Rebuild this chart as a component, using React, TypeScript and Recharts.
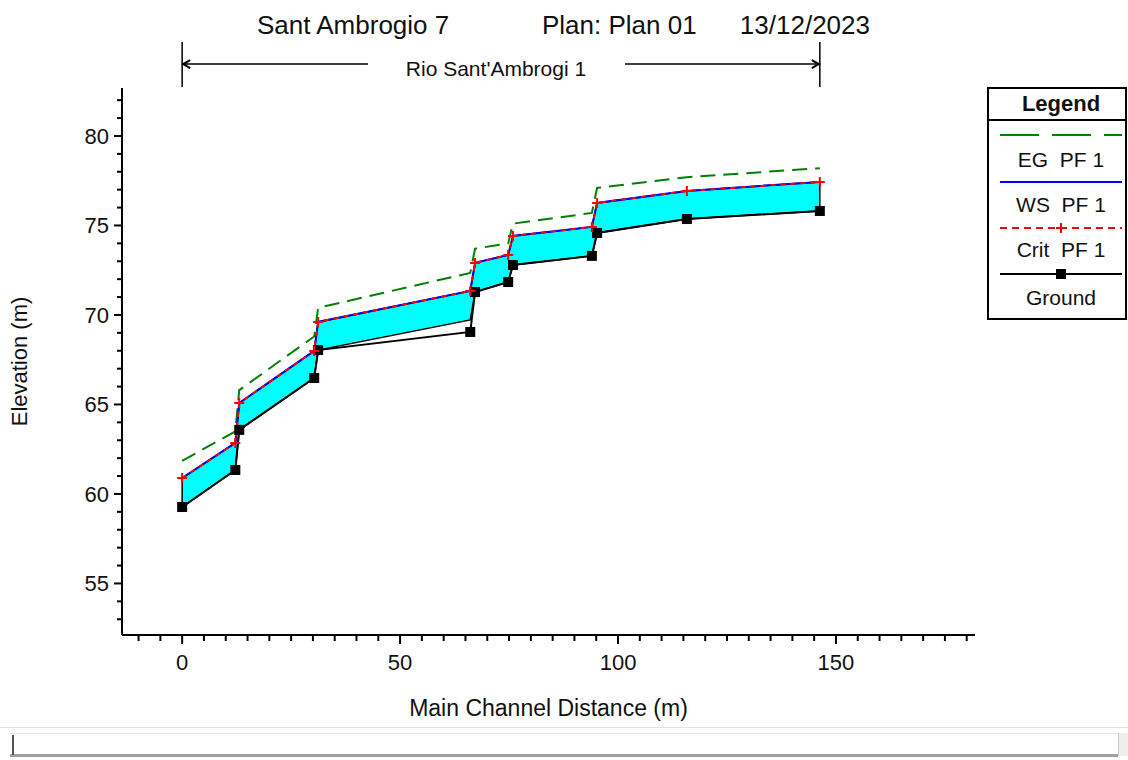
import React from "react";
import { ComposedChart, XAxis, YAxis, Area, Line, ReferenceLine } from "recharts";

// river stations (main channel distance, m) and profile elevations (m)
const stations = [0, 12.2, 13.1, 30.3, 31.2, 66.1, 67.2, 74.8, 75.9, 94.0, 95.2, 115.8, 146.3];
const groundElev = [59.27, 61.34, 63.58, 66.48, 68.04, 69.05, 71.28, 71.84, 72.79, 73.3, 74.58, 75.36, 75.81];
const flowBottom = [59.27, 61.34, 63.58, 66.48, 68.04, 69.72, 71.28, 71.84, 72.79, 73.3, 74.58, 75.36, 75.81];
const wsElev = [60.89, 62.85, 65.08, 67.99, 69.61, 71.34, 72.91, 73.35, 74.41, 74.92, 76.26, 76.93, 77.43];
const critElev = [60.89, 62.85, 65.08, 67.99, 69.61, 71.34, 72.91, 73.35, 74.41, 74.92, 76.26, 76.93, 77.43];
const egElev = [61.85, 63.5, 65.8, 68.8, 70.4, 72.35, 73.7, 74.0, 75.1, 75.7, 77.1, 77.7, 78.2];

const titleParts = ["Sant Ambrogio 7", "Plan: Plan 01", "13/12/2023"];
const reachName = "Rio Sant'Ambrogi 1";
const legendLabels = ["EG  PF 1", "WS  PF 1", "Crit  PF 1", "Ground"];

const xTicks = Array.from({ length: 39 }, (_, i) => -10 + i * 5);
const yTicks = Array.from({ length: 30 }, (_, i) => 53 + i);

const data = stations.map((d, i) => ({
  dist: d,
  ground: groundElev[i],
  ws: wsElev[i],
  crit: critElev[i],
  eg: egElev[i],
  flow: [flowBottom[i], wsElev[i]],
}));

const FONT = "'Liberation Sans', Arial, sans-serif";
const last = stations.length - 1;
const bracketElev = 84.02;

const XTick = ({ x, y, payload }: any) => {
  const major = payload.value % 50 === 0;
  return (
    <g>
      <line x1={x} x2={x} y1={y} y2={y + (major ? 9 : 6)} stroke="#000" strokeWidth={2} />
      {major && (
        <text x={x} y={y + 35} textAnchor="middle" fontSize={22} fill="#111">
          {payload.value}
        </text>
      )}
    </g>
  );
};

const YTick = ({ x, y, payload }: any) => {
  const major = payload.value % 5 === 0;
  return (
    <g>
      <line x1={x} x2={x - (major ? 8 : 5)} y1={y} y2={y} stroke="#000" strokeWidth={2} />
      {major && (
        <text x={x - 13} y={y + 8} textAnchor="end" fontSize={22} fill="#111">
          {payload.value}
        </text>
      )}
    </g>
  );
};

const BracketShape = ({ x1, y1, x2 }: any) => {
  const mid = (x1 + x2) / 2;
  return (
    <g>
      <line x1={x1} x2={x1} y1={y1 - 22} y2={y1 + 23} stroke="#000" strokeWidth={1.5} />
      <line x1={x2} x2={x2} y1={y1 - 22} y2={y1 + 23} stroke="#000" strokeWidth={1.5} />
      <line x1={x1} x2={mid - 133} y1={y1} y2={y1} stroke="#000" strokeWidth={1.5} />
      <line x1={mid + 124} x2={x2} y1={y1} y2={y1} stroke="#000" strokeWidth={1.5} />
      <path d={`M${x1 + 8},${y1 - 4}L${x1 + 1},${y1}L${x1 + 8},${y1 + 4}`} fill="none" stroke="#000" strokeWidth={2} />
      <path d={`M${x2 - 8},${y1 - 4}L${x2 - 1},${y1}L${x2 - 8},${y1 + 4}`} fill="none" stroke="#000" strokeWidth={2} />
      <text x={mid - 5} y={y1 + 12} textAnchor="middle" fontSize={21} fill="#111">
        {reachName}
      </text>
    </g>
  );
};

const groundDot = (p: any) => (
  <rect key={`g${p.index}`} x={p.cx - 5} y={p.cy - 5} width={10} height={10} fill="#000" />
);

const critDot = (p: any) => (
  <path
    key={`c${p.index}`}
    d={`M${p.cx - 5},${p.cy}h10M${p.cx},${p.cy - 5}v10`}
    stroke="#ff0000"
    strokeWidth={2}
    fill="none"
  />
);

function LegendBox() {
  const cx = 1061;
  return (
    <svg width={1128} height={760} style={{ position: "absolute", left: 0, top: 0, pointerEvents: "none", fontFamily: FONT }}>
      {titleParts.map((t, i) => (
        <text key={t} x={[257, 542, 870][i]} y={34} textAnchor={i === 2 ? "end" : "start"} fontSize={26} fill="#111">
          {t}
        </text>
      ))}
      <rect x={988} y={88} width={138} height={231} fill="#fff" stroke="#000" strokeWidth={2} />
      <line x1={988} x2={1126} y1={120} y2={120} stroke="#000" strokeWidth={2} />
      <text x={cx} y={111} textAnchor="middle" fontWeight="bold" fontSize={22} fill="#111">
        Legend
      </text>
      <line x1={1000} x2={1122} y1={135} y2={135} stroke="#008000" strokeWidth={2} strokeDasharray="39 13" />
      <line x1={1000} x2={1122} y1={182} y2={182} stroke="#0000ff" strokeWidth={2} />
      <line x1={1000} x2={1122} y1={228} y2={228} stroke="#ff0000" strokeWidth={2} strokeDasharray="7 5" />
      <path d={`M${cx - 5},228h10M${cx},223v10`} stroke="#ff0000" strokeWidth={2} />
      <line x1={1000} x2={1122} y1={274} y2={274} stroke="#000" strokeWidth={2} />
      <rect x={cx - 5} y={269} width={10} height={10} fill="#000" />
      {legendLabels.map((t, i) => (
        <text key={t} x={cx} y={[167, 212, 257, 305][i]} textAnchor="middle" fontSize={21} fill="#111" style={{ whiteSpace: "pre" }}>
          {t}
        </text>
      ))}
    </svg>
  );
}

function ScrollBar() {
  return (
    <>
      <div style={{ position: "absolute", left: 0, top: 727, width: 1128, height: 1, background: "#e2e2e2" }} />
      <div
        style={{
          position: "absolute",
          left: 10,
          top: 733,
          width: 1108,
          height: 20,
          background: "#fff",
          borderTop: "1px solid #e6e6e6",
          borderBottom: "3px solid #a0a0a0",
        }}
      />
      <div style={{ position: "absolute", left: 12, top: 735, width: 2, height: 20, background: "#555" }} />
      <div style={{ position: "absolute", left: 1118, top: 733, width: 10, height: 23, background: "#eee", borderLeft: "1px solid #ccc" }} />
    </>
  );
}

export default function App() {
  return (
    <div style={{ position: "absolute", left: 0, top: 0, width: 1128, height: 760, background: "#fff", fontFamily: FONT }}>
      <ComposedChart
        width={1128}
        height={760}
        data={data}
        margin={{ top: 88, right: 153, bottom: 35, left: 0 }}
        style={{ fontFamily: FONT }}
      >
        <XAxis
          type="number"
          dataKey="dist"
          domain={[-13.8, 181.9]}
          allowDataOverflow
          ticks={xTicks}
          interval={0}
          tickSize={0}
          tickMargin={0}
          tickLine={false}
          tick={<XTick />}
          axisLine={{ stroke: "#000", strokeWidth: 2 }}
          height={90}
          label={{ value: "Main Channel Distance (m)", position: "insideBottom", offset: 9, fontSize: 23, fill: "#111" }}
        />
        <YAxis
          type="number"
          domain={[52.12, 82.68]}
          allowDataOverflow
          ticks={yTicks}
          interval={0}
          tickSize={0}
          tickMargin={0}
          tickLine={false}
          tick={<YTick />}
          axisLine={{ stroke: "#000", strokeWidth: 2 }}
          width={122}
          label={{
            value: "Elevation (m)",
            angle: -90,
            position: "insideLeft",
            offset: 19,
            fontSize: 22,
            fill: "#111",
            style: { textAnchor: "middle" },
          }}
        />
        <Area
          type="linear"
          dataKey="flow"
          fill="#00ffff"
          fillOpacity={1}
          stroke="#000"
          strokeWidth={1.5}
          activeDot={false}
          isAnimationActive={false}
        />
        <ReferenceLine
          segment={[{ x: stations[0], y: groundElev[0] }, { x: stations[0], y: wsElev[0] }]}
          stroke="#000"
          strokeWidth={1.5}
        />
        <ReferenceLine
          segment={[{ x: stations[last], y: groundElev[last] }, { x: stations[last], y: wsElev[last] }]}
          stroke="#000"
          strokeWidth={1.5}
        />
        <Line
          type="linear"
          dataKey="eg"
          stroke="#008000"
          strokeWidth={2}
          strokeDasharray="15 8"
          dot={false}
          activeDot={false}
          isAnimationActive={false}
        />
        <Line
          type="linear"
          dataKey="ground"
          stroke="#000"
          strokeWidth={2}
          dot={groundDot}
          activeDot={false}
          isAnimationActive={false}
        />
        <Line
          type="linear"
          dataKey="ws"
          stroke="#0000ff"
          strokeWidth={2}
          dot={false}
          activeDot={false}
          isAnimationActive={false}
        />
        <Line
          type="linear"
          dataKey="crit"
          stroke="#ff0000"
          strokeWidth={2}
          strokeDasharray="5 5"
          dot={critDot}
          activeDot={false}
          isAnimationActive={false}
        />
        <ReferenceLine
          segment={[{ x: stations[0], y: bracketElev }, { x: stations[last], y: bracketElev }]}
          ifOverflow="visible"
          shape={BracketShape}
        />
      </ComposedChart>
      <LegendBox />
      <ScrollBar />
    </div>
  );
}
